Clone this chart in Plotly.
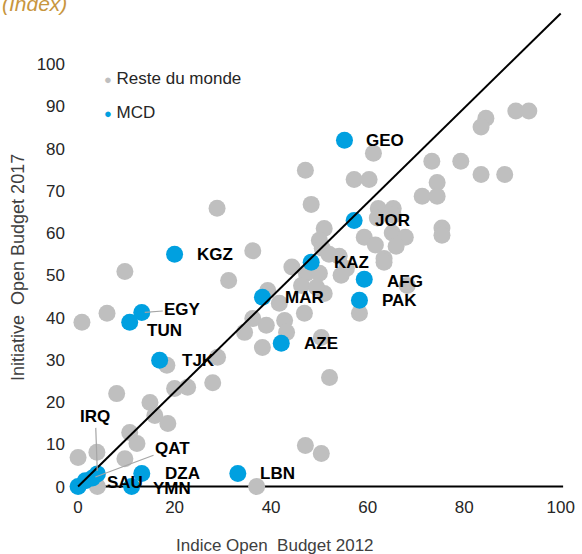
import plotly.graph_objects as go

# Reste du monde (grey)
row_x = [90.7, 93.4, 84.5, 83.5, 73.3, 79.3, 83.5, 88.4, 74.4, 71.3, 74.4, 75.4, 75.4,
         61.2, 47.1, 57.2, 60.3, 48.3, 62.2, 65.3, 62.0, 65.3,
         51.0, 50.0, 50.6, 59.3, 61.6, 65.1, 67.8, 65.9, 63.4, 54.1, 55.6, 52.0,
         28.8, 36.2, 31.2, 9.7, 6.0, 0.8,
         44.3, 47.3, 50.0, 54.5, 46.3, 51.0, 49.4, 63.4, 68.2, 58.3,
         39.3, 41.7, 46.9, 36.2, 39.0, 42.8, 43.2, 34.5, 38.2, 50.4, 52.1, 47.1, 50.4,
         18.4, 28.9, 27.9, 22.7, 20.0, 8.0, 14.9, 15.9, 18.6, 10.7, 12.2, 3.9, 0.0, 9.7, 4.0, 37.0]
row_y = [88.9, 88.9, 87.2, 85.1, 77.0, 77.0, 73.9, 73.9, 72.0, 68.7, 68.7, 61.2, 59.5,
         78.9, 74.9, 72.7, 72.7, 66.8, 65.8, 65.8, 63.6, 64.2,
         61.1, 58.3, 56.4, 59.0, 57.2, 60.0, 59.0, 56.9, 54.0, 54.5, 51.6, 55.0,
         65.9, 55.8, 48.8, 50.9, 41.0, 38.9,
         52.0, 50.5, 50.5, 50.0, 47.6, 45.7, 47.2, 53.1, 47.6, 41.0,
         46.4, 43.4, 41.0, 39.8, 38.2, 39.3, 36.5, 36.5, 32.9, 35.3, 25.8, 9.7, 7.8,
         28.7, 30.6, 24.6, 23.5, 23.2, 22.0, 19.9, 16.8, 14.9, 12.8, 10.2, 8.1, 6.9, 6.6, 0.0, 0.0]

# MCD (blue)
mcd_codes = ["GEO", "KGZ", "JOR", "KAZ", "AFG", "PAK", "MAR", "AZE", "EGY", "TUN", "TJK",
             "IRQ", "QAT", "SAU", "DZA", "YMN", "LBN", ""]
mcd_x = [55.2, 20.0, 57.2, 48.3, 59.3, 58.3, 38.2, 42.1, 13.2, 10.7, 16.9,
         4.0, 3.0, 1.5, 13.2, 11.1, 33.1, 0.0]
mcd_y = [82.0, 55.0, 63.0, 53.1, 49.1, 44.1, 44.8, 33.9, 41.2, 38.9, 29.9,
         3.0, 2.0, 1.4, 3.1, 0.0, 3.1, 0.0]

series_names = ["Reste du monde", "MCD"]
x_ticks = [0, 20, 40, 60, 80, 100]
y_ticks = [0, 10, 20, 30, 40, 50, 60, 70, 80, 90, 100]
diag_x = [0, 100]
diag_y = [0, 112]

# label offsets in pixels (right, down) relative to point
label_offsets = {"GEO": (22, 0), "KGZ": (22, 0), "JOR": (21, 0), "KAZ": (23, 0),
                 "AFG": (23, 2), "PAK": (23, 0), "MAR": (23, 0), "AZE": (23, 0),
                 "TUN": (17, 8), "TJK": (22, 0), "SAU": (22, 2), "DZA": (23, 0),
                 "YMN": (21, 2), "LBN": (22, 0)}
# leader-line labels: text centre offset (px right, px down)
leader_labels = {"EGY": (41, -3), "IRQ": (-2, -57), "QAT": (80, -30)}

GREY = "#BFBFBF"
BLUE = "#00A0E0"
FONT = "Liberation Sans, Arial, sans-serif"

W, H = 582, 554
ML, MR, MT, MB = 66, 2, 5, 59
PW, PH = W - ML - MR, H - MT - MB


def px(x):
    return (x - ML) / PW


def py(y):
    return 1 - (y - MT) / PH


fig = go.Figure()
fig.add_trace(go.Scatter(x=row_x, y=row_y, mode="markers", showlegend=False, name=series_names[0],
                         marker=dict(size=17, color=GREY), cliponaxis=False, hoverinfo="skip"))
fig.add_trace(go.Scatter(x=mcd_x, y=mcd_y, mode="markers", showlegend=False, name=series_names[1],
                         marker=dict(size=17, color=BLUE), cliponaxis=False, hoverinfo="skip"))
fig.add_trace(go.Scatter(x=diag_x, y=diag_y, mode="lines", showlegend=False,
                         line=dict(color="black", width=2), cliponaxis=False, hoverinfo="skip"))

ann = []
for c, x, y in zip(mcd_codes, mcd_x, mcd_y):
    if c in label_offsets:
        dx, dy = label_offsets[c]
        ann.append(dict(x=x, y=y, text="<b>%s</b>" % c, showarrow=False, xanchor="left",
                        yanchor="middle", xshift=dx - 2, yshift=-dy,
                        font=dict(size=17, color="black", family=FONT)))
    elif c in leader_labels:
        ax, ay = leader_labels[c]
        ann.append(dict(x=x, y=y, text="<b>%s</b>" % c, showarrow=True, arrowhead=0,
                        arrowwidth=1.2, arrowcolor="#A6A6A6", ax=ax, ay=ay,
                        standoff=3, font=dict(size=17, color="black", family=FONT)))

# legend as text
legend_colors = [GREY, BLUE]
legend_rows = [78, 113]
for name, col, ry in zip(series_names, legend_colors, legend_rows):
    ann.append(dict(xref="paper", yref="paper", x=px(102), y=py(ry), xanchor="left",
                    yanchor="middle", showarrow=False,
                    text="<span style='color:%s;font-size:13px'>●</span> %s" % (col, name),
                    font=dict(size=17, color="#262626", family=FONT)))

ann.append(dict(xref="paper", yref="paper", x=px(0), y=py(4), xanchor="left", yanchor="middle",
                text="<i>(Index)</i>", showarrow=False,
                font=dict(size=21, color="#C8963E", family=FONT)))
ann.append(dict(xref="paper", yref="paper", x=px(275), y=py(545), xanchor="center",
                yanchor="middle", text="Indice Open  Budget 2012", showarrow=False,
                font=dict(size=17, color="#404040", family=FONT)))
ann.append(dict(xref="paper", yref="paper", x=px(18), y=py(268), xanchor="center",
                yanchor="middle", text="Initiative  Open Budget 2017", showarrow=False,
                textangle=-90, font=dict(size=18, color="#404040", family=FONT)))

fig.update_layout(
    width=W, height=H,
    margin=dict(l=ML, r=MR, t=MT, b=MB),
    plot_bgcolor="white", paper_bgcolor="white",
    font=dict(family=FONT, color="#262626"),
    showlegend=False,
    annotations=ann,
    shapes=[dict(type="line", x0=0, x1=100.5, y0=0, y1=0, xref="x", yref="y",
                 line=dict(color="black", width=2), layer="below")],
    xaxis=dict(range=[-2.5, 104], tickvals=x_ticks, showgrid=False, zeroline=False,
               showline=False, ticks="", automargin=False,
               tickfont=dict(size=17, color="#262626")),
    yaxis=dict(range=[-2, 114], tickvals=y_ticks, showgrid=False, zeroline=False,
               showline=False, ticks="", automargin=False,
               tickfont=dict(size=17, color="#262626")),
)
fig.write_html("out.html", config={"displayModeBar": False},
               post_script="document.body.style.margin='0';document.body.style.overflow='hidden';")
